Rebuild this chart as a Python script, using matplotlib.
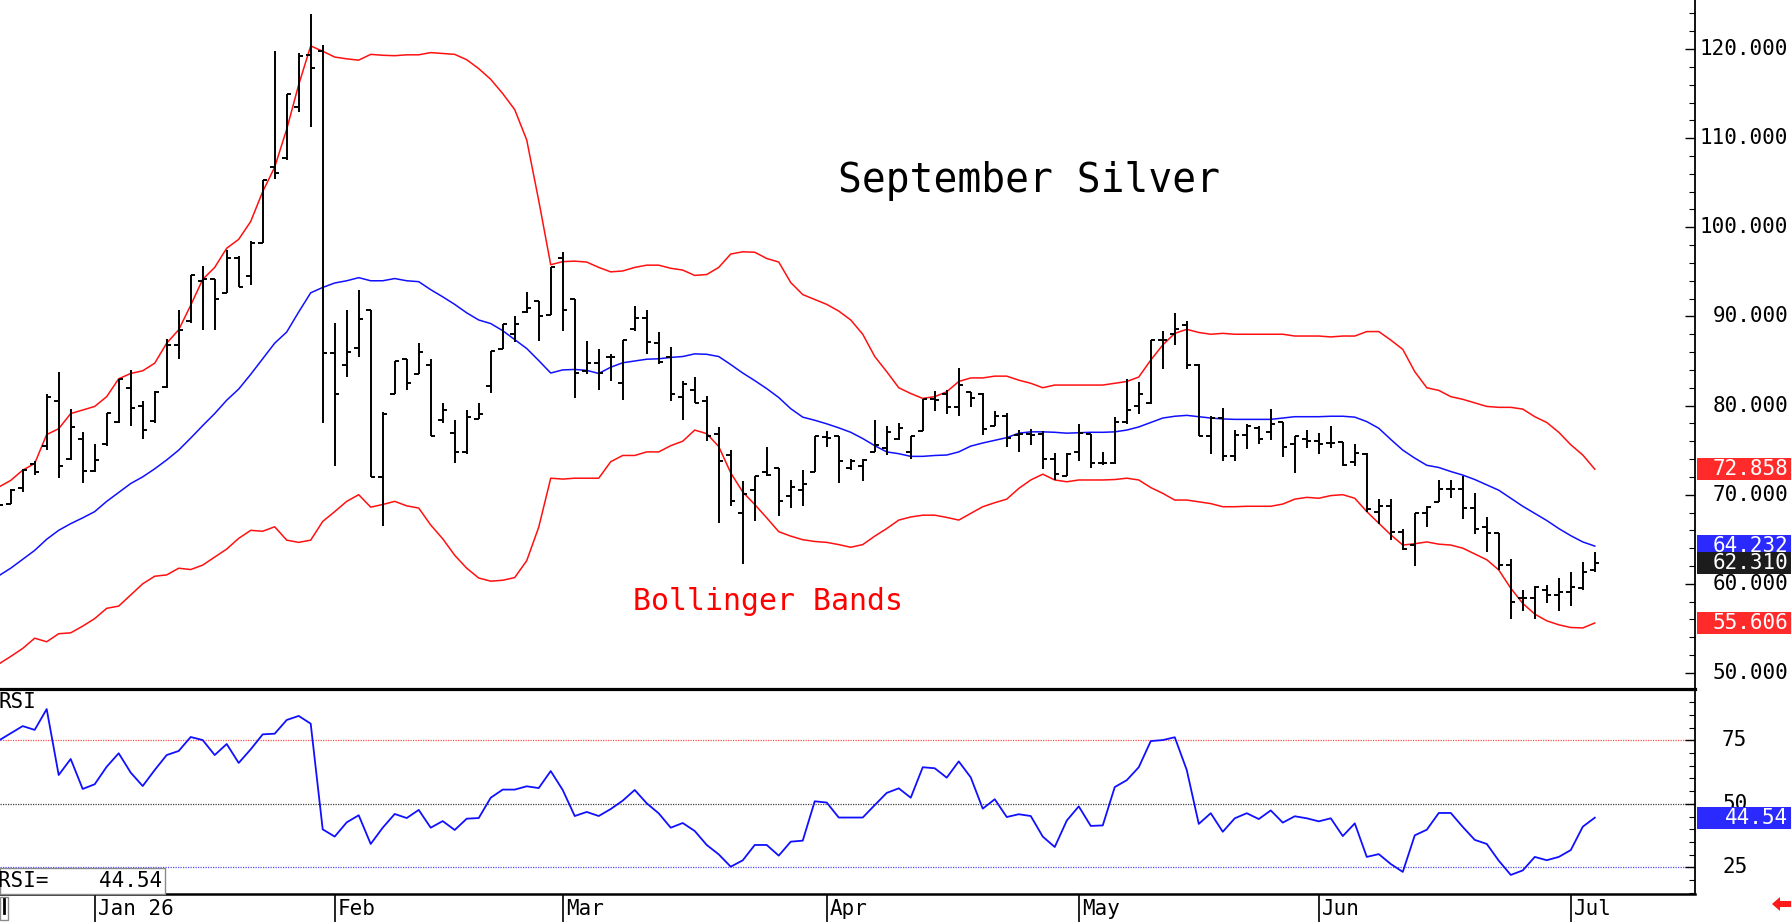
import numpy as np
import matplotlib
matplotlib.use("Agg")
import matplotlib.pyplot as plt
import matplotlib.transforms as mtransforms
from matplotlib.collections import LineCollection
from matplotlib.patches import Rectangle, Polygon
from matplotlib.lines import Line2D
from matplotlib.ticker import MultipleLocator, NullFormatter

plt.rcParams['font.family'] = ['DejaVu Sans Mono', 'DejaVu Sans']

# =========================
# DATA (daily bars, index 0 = first bar on the chart)
# =========================

opens = [69.5, 69.0, 70.75, 73.4, 75.5, 80.5, 74.0, 76.25, 72.65, 75.65,
         78.15, 82.0, 80.0, 78.25, 82.1, 86.75, 89.5, 94.0, 94.25, 92.65,
         96.6, 94.5, 98.25, 106.75, 107.75, 113.5, 119.3, 119.75, 85.9, 84.5,
         86.5, 90.75, 72.0, 81.25, 85.25, 83.5, 84.5, 78.35, 76.9, 74.75,
         78.45, 82.2, 86.35, 88.0, 90.5, 91.7, 90.2, 96.5, 91.9, 83.9,
         84.8, 85.45, 82.5, 88.6, 89.85, 87.0, 85.4, 81.0, 81.7, 80.5,
         76.8, 74.4, 67.9, 70.5, 72.5, 73.0, 69.8, 70.5, 72.6, 76.5,
         76.6, 73.0, 73.2, 74.8, 75.2, 76.3, 74.8, 77.1, 80.7, 81.3,
         79.8, 81.5, 81.3, 77.7, 78.8, 76.7, 76.8, 76.8, 74.0, 72.1,
         74.8, 76.8, 73.6, 73.6, 78.2, 80.0, 80.25, 87.35, 88.0, 89.0,
         84.55, 76.6, 78.6, 74.3, 76.7, 77.5, 77.0, 78.1, 75.7, 76.3,
         76.0, 75.8, 75.95, 73.7, 74.6, 68.1, 68.7, 65.85, 64.35, 67.9,
         69.2, 70.6, 70.6, 68.5, 66.4, 65.65, 62.1, 58.4, 58.4, 59.3,
         58.75, 59.1, 59.5, 61.5]

highs = [70.5, 70.65, 72.9, 73.75, 81.25, 83.75, 79.65, 77.0, 75.65, 79.2,
         83.0, 84.0, 80.5, 81.65, 87.5, 90.75, 94.6, 95.65, 94.25, 97.5,
         96.75, 98.5, 105.25, 119.75, 115.0, 119.6, 123.9, 120.5, 89.25, 90.75,
         93.0, 90.75, 79.25, 85.0, 85.25, 87.0, 85.25, 80.25, 78.35, 79.45,
         80.3, 86.15, 89.1, 90.1, 92.7, 91.7, 95.55, 97.25, 91.9, 87.2,
         86.4, 85.8, 87.4, 91.2, 90.7, 88.3, 86.6, 82.7, 83.2, 81.1,
         77.6, 75.0, 71.5, 72.1, 75.3, 73.0, 71.7, 72.75, 76.6, 77.1,
         76.6, 74.0, 74.0, 78.4, 77.7, 78.0, 76.6, 80.7, 81.6, 81.8,
         84.2, 81.5, 81.4, 79.4, 79.2, 77.3, 77.4, 77.1, 74.7, 74.7,
         77.9, 76.8, 74.8, 78.7, 83.0, 82.6, 87.35, 88.4, 90.4, 89.5,
         84.7, 78.8, 79.7, 77.25, 77.9, 77.7, 79.6, 78.2, 76.6, 77.3,
         76.95, 77.7, 75.95, 75.7, 74.7, 69.5, 69.5, 66.2, 68.0, 68.7,
         71.6, 71.6, 72.1, 70.2, 67.5, 65.65, 62.75, 59.3, 59.75, 59.85,
         60.6, 61.35, 62.4, 63.6]

lows = [68.75, 69.0, 70.35, 72.25, 75.0, 71.85, 73.85, 71.35, 72.5, 75.5,
        78.0, 77.75, 76.25, 78.0, 82.0, 85.25, 89.25, 88.5, 88.5, 92.6,
        93.25, 93.5, 98.25, 105.4, 107.5, 112.9, 111.25, 78.0, 73.25, 83.25,
        85.5, 72.0, 66.5, 81.25, 81.75, 83.5, 76.6, 78.0, 73.5, 74.6,
        78.45, 81.4, 86.35, 87.1, 90.4, 87.2, 90.2, 88.4, 80.9, 83.5,
        81.8, 82.7, 80.6, 88.4, 85.8, 84.7, 80.5, 78.35, 80.3, 76.0,
        66.8, 68.7, 62.2, 67.0, 72.05, 67.6, 68.5, 68.7, 72.5, 75.3,
        71.3, 72.75, 71.5, 74.8, 74.45, 76.1, 74.0, 77.1, 79.4, 79.1,
        78.8, 79.8, 76.7, 77.7, 75.4, 74.8, 75.6, 72.85, 71.7, 72.1,
        73.8, 73.0, 73.3, 73.4, 77.9, 79.0, 80.2, 84.1, 86.8, 84.1,
        76.6, 74.6, 73.8, 73.8, 75.1, 75.7, 76.1, 74.2, 72.4, 75.2,
        74.6, 75.2, 73.2, 73.2, 68.1, 66.7, 64.9, 63.8, 62.0, 66.4,
        69.2, 69.6, 67.3, 65.6, 63.6, 61.6, 56.0, 56.9, 56.0, 57.8,
        57.0, 57.5, 59.3, 61.35]

closes = [68.85, 70.5, 72.8, 72.6, 81.0, 73.25, 77.65, 72.65, 73.85, 79.15,
          83.0, 79.75, 77.25, 81.5, 86.75, 88.5, 94.6, 94.25, 91.9, 96.5,
          93.25, 98.25, 105.25, 106.1, 115.0, 119.25, 117.9, 85.9, 81.25, 86.0,
          89.75, 72.0, 79.0, 85.0, 82.5, 86.0, 76.6, 79.5, 74.75, 78.75,
          79.1, 86.15, 89.1, 89.2, 91.0, 90.0, 95.55, 90.75, 83.7, 84.8,
          83.7, 85.5, 87.4, 89.8, 87.1, 84.85, 81.3, 82.4, 80.3, 76.6,
          73.8, 69.3, 70.1, 72.1, 72.2, 69.3, 70.9, 71.2, 76.6, 76.4,
          73.8, 73.8, 73.9, 75.6, 77.0, 77.5, 76.6, 80.7, 80.6, 79.8,
          82.3, 80.9, 77.4, 78.8, 76.4, 76.8, 76.7, 74.0, 72.3, 74.6,
          76.9, 73.6, 73.6, 78.2, 79.5, 81.3, 87.3, 87.4, 88.6, 84.55,
          76.6, 78.6, 74.3, 76.7, 77.7, 76.3, 77.9, 75.4, 76.6, 76.05,
          75.7, 75.85, 73.35, 74.7, 68.35, 68.7, 65.85, 63.9, 67.9, 68.65,
          70.6, 70.6, 68.5, 66.2, 65.65, 62.1, 58.0, 58.4, 59.6, 58.75,
          59.1, 59.6, 61.35, 62.31]

bb_upper = [70.85, 71.6, 72.75, 73.5, 76.75, 77.4, 79.1, 79.5, 79.9, 81.0,
            83.0, 83.6, 83.9, 84.75, 87.0, 88.5, 91.25, 94.15, 95.5, 97.65,
            98.65, 100.65, 104.0, 106.75, 111.0, 116.0, 120.35, 119.75, 119.1, 118.9,
            118.75, 119.4, 119.3, 119.25, 119.35, 119.35, 119.6, 119.5, 119.4, 118.8,
            117.8, 116.6, 115.0, 113.2, 109.8, 103.0, 95.8, 96.15, 96.2, 96.1,
            95.5, 95.0, 95.1, 95.5, 95.75, 95.75, 95.4, 95.2, 94.6, 94.7,
            95.5, 97.0, 97.25, 97.2, 96.5, 96.1, 93.8, 92.45, 91.9, 91.35,
            90.6, 89.6, 88.0, 85.5, 83.8, 82.0, 81.35, 80.8, 81.0, 81.55,
            82.7, 83.1, 83.1, 83.3, 83.3, 82.85, 82.5, 82.0, 82.3, 82.3,
            82.3, 82.3, 82.3, 82.5, 82.7, 83.2, 85.1, 86.8, 88.1, 88.55,
            88.2, 88.0, 88.1, 88.0, 88.0, 88.0, 88.0, 88.0, 87.8, 87.8,
            87.8, 87.7, 87.8, 87.8, 88.3, 88.3, 87.35, 86.3, 83.8, 82.0,
            81.7, 81.0, 80.7, 80.3, 79.9, 79.8, 79.8, 79.6, 78.75, 78.1,
            77.0, 75.6, 74.45, 72.858]

bb_middle = [60.9, 61.75, 62.75, 63.75, 65.0, 66.0, 66.75, 67.4, 68.1, 69.25,
             70.25, 71.25, 72.0, 72.9, 73.9, 75.0, 76.35, 77.75, 79.1, 80.6,
             81.85, 83.5, 85.25, 87.0, 88.25, 90.5, 92.65, 93.25, 93.75, 94.0,
             94.35, 94.0, 94.0, 94.25, 94.0, 93.9, 93.0, 92.2, 91.35, 90.4,
             89.6, 89.2, 88.4, 87.4, 86.4, 85.05, 83.65, 84.0, 84.05, 83.95,
             83.6, 84.3, 84.8, 85.0, 85.2, 85.25, 85.4, 85.5, 85.8, 85.75,
             85.5, 84.6, 83.65, 82.8, 81.9, 80.9, 79.65, 78.7, 78.35, 77.95,
             77.5, 77.0, 76.3, 75.5, 74.8, 74.6, 74.3, 74.3, 74.4, 74.45,
             74.8, 75.45, 75.8, 76.1, 76.4, 76.9, 77.05, 77.05, 77.0, 76.9,
             76.95, 77.0, 77.0, 77.05, 77.25, 77.6, 78.1, 78.6, 78.8, 78.9,
             78.75, 78.6, 78.5, 78.45, 78.45, 78.45, 78.45, 78.6, 78.75, 78.75,
             78.75, 78.8, 78.8, 78.7, 78.2, 77.45, 76.2, 75.0, 74.1, 73.3,
             73.05, 72.6, 72.2, 71.7, 71.1, 70.5, 69.6, 68.7, 67.9, 67.1,
             66.2, 65.4, 64.7, 64.232]

bb_lower = [51.0, 51.85, 52.75, 53.9, 53.5, 54.4, 54.5, 55.25, 56.1, 57.25,
            57.5, 58.75, 60.0, 60.85, 61.0, 61.75, 61.6, 62.1, 63.0, 63.9,
            65.1, 66.0, 65.9, 66.4, 64.9, 64.65, 64.9, 67.0, 68.1, 69.25,
            70.0, 68.6, 68.9, 69.25, 68.75, 68.5, 66.6, 65.05, 63.2, 61.75,
            60.65, 60.3, 60.4, 60.7, 62.6, 66.35, 71.85, 71.75, 71.85, 71.85,
            71.85, 73.7, 74.4, 74.4, 74.8, 74.8, 75.5, 76.0, 77.25, 76.85,
            75.4, 72.45, 70.3, 68.9, 67.4, 65.85, 65.35, 64.95, 64.75, 64.65,
            64.4, 64.1, 64.4, 65.35, 66.2, 67.15, 67.5, 67.7, 67.7, 67.45,
            67.15, 67.9, 68.65, 69.1, 69.5, 70.7, 71.65, 72.3, 71.65, 71.45,
            71.65, 71.65, 71.65, 71.7, 71.85, 71.65, 70.8, 70.15, 69.4, 69.4,
            69.2, 69.0, 68.65, 68.65, 68.7, 68.7, 68.7, 68.95, 69.5, 69.7,
            69.6, 69.9, 70.0, 69.6, 68.1, 66.8, 65.5, 64.35, 64.5, 64.7,
            64.45, 64.35, 64.0, 63.35, 62.7, 61.55, 59.5, 57.8, 56.6, 55.85,
            55.4, 55.1, 55.05, 55.606]

rsi = [74.9, 77.75, 80.6, 79.1, 87.3, 61.35, 67.65, 55.85, 57.7, 64.6,
       69.9, 62.3, 57.0, 63.3, 69.2, 70.8, 76.3, 75.1, 69.2, 73.55,
       66.1, 71.45, 77.35, 77.6, 83.0, 84.6, 81.55, 39.95, 37.1, 42.7,
       45.5, 34.2, 40.6, 46.0, 44.4, 47.6, 40.6, 43.2, 39.7, 44.15,
       44.4, 52.4, 55.6, 55.6, 56.9, 56.2, 62.9, 55.45, 45.2, 46.8,
       45.2, 47.95, 51.25, 55.45, 50.2, 46.25, 40.6, 42.45, 39.3, 33.8,
       30.1, 25.25, 27.75, 33.8, 33.8, 29.6, 35.1, 35.5, 51.0, 50.5,
       44.6, 44.6, 44.6, 49.5, 54.3, 56.1, 52.4, 64.4, 64.0, 60.3,
       66.7, 60.4, 48.1, 51.8, 44.8, 45.9, 45.2, 37.1, 33.0, 43.4,
       49.0, 41.3, 41.5, 56.6, 59.3, 64.4, 74.7, 75.1, 76.2, 63.3,
       42.1, 46.3, 39.0, 44.3, 46.3, 44.0, 47.4, 42.6, 45.1, 44.3,
       43.1, 44.3, 37.3, 42.3, 29.1, 30.2, 26.3, 23.2, 37.6, 39.8,
       46.4, 46.4, 40.9, 35.8, 34.2, 27.6, 22.0, 23.8, 29.1, 27.8,
       29.1, 31.8, 41.0, 44.54]

month_labels = ["Jan 26", "Feb", "Mar", "Apr", "May", "Jun", "Jul"]
month_bars = [8, 28, 47, 69, 90, 110, 131]

price_ticks = [50, 60, 70, 80, 90, 100, 110, 120]
rsi_ticks = [25, 50, 75]

# =========================
# FIGURE / AXES (pixel layout)
# =========================

W, H = 1791, 922
fig = plt.figure(figsize=(W / 100, H / 100), dpi=100)


def fx(px):
    return px / W


def fy(py):
    return 1 - py / H


AX_R = 1695      # right axis line
SEP = 689        # price / rsi separator
RSI_B = 894      # bottom of rsi panel

ax = fig.add_axes([0, fy(SEP), fx(AX_R), SEP / H])
ax_rsi = fig.add_axes([0, fy(RSI_B), fx(AX_R), (RSI_B - SEP) / H])
ax_dt = fig.add_axes([0, 0, fx(AX_R), (H - RSI_B) / H])

XLIM = (0.11, 141.35)
for a in (ax, ax_rsi, ax_dt):
    a.set_xlim(*XLIM)
    a.set_xticks([])
    a.patch.set_alpha(0)

ax.set_ylim(48.2, 125.5)
ax_rsi.set_ylim(14.5, 95.2)
ax_dt.set_ylim(0, 1)

idx = np.arange(len(closes))

# =========================
# PRICE PANEL
# =========================

segs = []
for i, o, h, l, c in zip(idx, opens, highs, lows, closes):
    segs.append([(i, l), (i, h)])
    segs.append([(i - 0.38, o), (i, o)])
    segs.append([(i, c), (i + 0.38, c)])
ax.add_collection(LineCollection(segs, colors='black', linewidths=1.4,
                                 capstyle='butt', zorder=3))

ax.plot(idx, bb_upper, color='#ff1010', lw=1.1, zorder=2)
ax.plot(idx, bb_middle, color='#1010ff', lw=1.1, zorder=2)
ax.plot(idx, bb_lower, color='#ff1010', lw=1.1, zorder=2)

fig.text(fx(1029), fy(192), "September Silver", ha='center', va='baseline',
         fontsize=28.5, color='black')
fig.text(fx(633), fy(610), "Bollinger Bands", ha='left', va='baseline',
         fontsize=21.5, color='#ff0000')

for s in ('left', 'top'):
    ax.spines[s].set_visible(False)
ax.spines['right'].set_linewidth(1.3)
ax.spines['bottom'].set_linewidth(2.3)

ax.yaxis.tick_right()
ax.yaxis.set_major_locator(MultipleLocator(10))
ax.yaxis.set_minor_locator(MultipleLocator(2))
ax.yaxis.set_major_formatter(NullFormatter())
ax.tick_params(axis='y', which='major', direction='in', length=7, width=1)
ax.tick_params(axis='y', which='minor', direction='in', length=4, width=0.8)

tr_p = mtransforms.blended_transform_factory(ax.transAxes, ax.transData)
for v in price_ticks:
    ax.text(1788 / AX_R, v, f"{v:.3f}", transform=tr_p, ha='right',
            va='center', fontsize=15, clip_on=False)


def value_box(axis, tr, val, text, face, h_units):
    axis.add_patch(Rectangle((1697 / AX_R, val - h_units / 2), 94 / AX_R, h_units,
                             transform=tr, facecolor=face, edgecolor='none',
                             clip_on=False, zorder=5))
    axis.text(1788 / AX_R, val, text, transform=tr, ha='right', va='center',
              color='white', fontsize=15, clip_on=False, zorder=6)


value_box(ax, tr_p, bb_upper[-1], f"{bb_upper[-1]:.3f}", '#ff2a2a', 2.5)
value_box(ax, tr_p, bb_lower[-1], f"{bb_lower[-1]:.3f}", '#ff2a2a', 2.5)
value_box(ax, tr_p, bb_middle[-1], f"{bb_middle[-1]:.3f}", '#2a2aff', 2.5)
value_box(ax, tr_p, closes[-1], f"{closes[-1]:.3f}", '#1c1c1c', 2.5)

# =========================
# RSI PANEL
# =========================

ax_rsi.axhline(75, color='#ff5050', lw=0.9, ls=(0, (1, 1)), zorder=1)
ax_rsi.axhline(50, color='#404040', lw=0.9, ls=(0, (1, 1)), zorder=1)
ax_rsi.axhline(25, color='#5050ff', lw=0.9, ls=(0, (1, 1)), zorder=1)
ax_rsi.plot(idx, rsi, color='#1010ff', lw=1.3, zorder=3)

for s in ('left', 'top'):
    ax_rsi.spines[s].set_visible(False)
ax_rsi.spines['right'].set_linewidth(1.3)
ax_rsi.spines['bottom'].set_linewidth(1.8)

ax_rsi.yaxis.tick_right()
ax_rsi.yaxis.set_major_locator(MultipleLocator(25))
ax_rsi.yaxis.set_minor_locator(MultipleLocator(5))
ax_rsi.yaxis.set_major_formatter(NullFormatter())
ax_rsi.tick_params(axis='y', which='major', direction='in', length=7, width=1)
ax_rsi.tick_params(axis='y', which='minor', direction='in', length=4, width=0.8)

tr_r = mtransforms.blended_transform_factory(ax_rsi.transAxes, ax_rsi.transData)
for v in rsi_ticks:
    ax_rsi.text(1722 / AX_R, v, f"{v}", transform=tr_r, ha='left',
                va='center', fontsize=15, clip_on=False)

value_box(ax_rsi, tr_r, rsi[-1], f"{rsi[-1]:.2f}", '#2a2aff', 8.7)

ax_rsi.text(-2 / AX_R, 0.935, "RSI", transform=ax_rsi.transAxes, ha='left',
            va='center', fontsize=15)

fig.add_artist(Rectangle((0, fy(RSI_B)), fx(165), (RSI_B - 868) / H,
                         transform=fig.transFigure, facecolor='white',
                         edgecolor='#8a8a8a', lw=1, zorder=5))
fig.text(fx(-2), fy(881), "RSI=    " + f"{rsi[-1]:.2f}", ha='left', va='center',
         fontsize=15, zorder=6)

# =========================
# DATE STRIP
# =========================

for b, lab in zip(month_bars, month_labels):
    ax_dt.axvline(b, color='black', lw=1.2)
    ax_dt.text(b + 0.25, 0.45, lab, ha='left', va='center', fontsize=15)
for s in ('left', 'right', 'top', 'bottom'):
    ax_dt.spines[s].set_visible(False)
ax_dt.set_yticks([])

# partial cursor box at the far left
fig.add_artist(Rectangle((0, fy(920)), fx(8), (920 - 897) / H,
                         transform=fig.transFigure, fill=False,
                         edgecolor='#8a8a8a', lw=1))
fig.add_artist(Line2D([fx(3.5), fx(3.5)], [fy(913), fy(899)],
                      transform=fig.transFigure, color='black', lw=2))

# small red arrow bottom right
arrow = [(1772, 904), (1780, 897), (1780, 901), (1791, 901),
         (1791, 907), (1780, 907), (1780, 911)]
fig.add_artist(Polygon([(fx(x), fy(y)) for x, y in arrow], closed=True,
                       transform=fig.transFigure, facecolor='#ff1a1a',
                       edgecolor='none'))

fig.savefig("out.png", dpi=100, facecolor='white')
